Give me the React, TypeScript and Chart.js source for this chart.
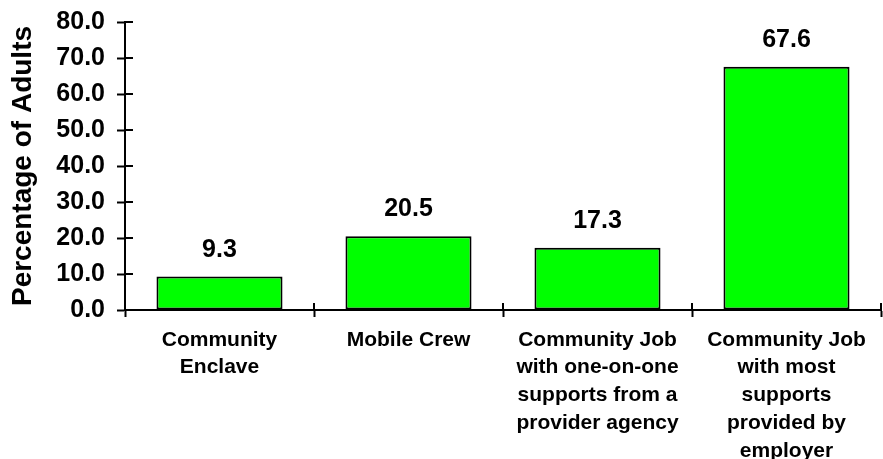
import React, { useEffect, useRef } from "react";
import { Chart, registerables } from "chart.js";

Chart.register(...registerables);

const categories: string[][] = [
  ["Community", "Enclave"],
  ["Mobile Crew"],
  ["Community Job", "with one-on-one", "supports from a", "provider agency"],
  ["Community Job", "with most", "supports", "provided by", "employer"],
];
const values: number[] = [9.3, 20.5, 17.3, 67.6];
const yTicks = { min: 0, max: 80, step: 10 };
const yTitle = "Percentage of Adults";

const FONT = "'Liberation Sans', Arial, Helvetica, sans-serif";

const valueLabels = {
  id: "valueLabels",
  afterDatasetsDraw(chart: any) {
    const ctx = chart.ctx;
    const meta = chart.getDatasetMeta(0);
    ctx.save();
    ctx.font = `bold 25px ${FONT}`;
    ctx.fillStyle = "#000";
    ctx.textAlign = "center";
    ctx.textBaseline = "alphabetic";
    meta.data.forEach((bar: any, i: number) => {
      ctx.fillText(values[i].toFixed(1), bar.x, bar.y - 20);
    });
    ctx.restore();
  },
};

const innerTicks = {
  id: "innerTicks",
  afterDraw(chart: any) {
    const ctx = chart.ctx;
    const ys = chart.scales.y;
    const xs = chart.scales.x;
    ctx.save();
    ctx.strokeStyle = "#000";
    ctx.lineWidth = 2;
    ctx.beginPath();
    ys.ticks.forEach((_t: any, i: number) => {
      const y = Math.round(ys.getPixelForTick(i));
      ctx.moveTo(ys.right, y);
      ctx.lineTo(ys.right + 8, y);
    });
    for (let i = 0; i <= categories.length; i++) {
      const x = Math.round(xs.getPixelForValue(i - 0.5));
      ctx.moveTo(x, xs.top);
      ctx.lineTo(x, xs.top - 7);
    }
    ctx.stroke();
    ctx.restore();
  },
};

export default function App() {
  const ref = useRef<HTMLCanvasElement | null>(null);
  useEffect(() => {
    if (!ref.current) return;
    const chart = new Chart(ref.current, {
      type: "bar",
      data: {
        labels: categories,
        datasets: [
          {
            data: values,
            backgroundColor: "#00FF00",
            borderColor: "#000000",
            borderWidth: 2,
            borderSkipped: false,
            barPercentage: 0.667,
            categoryPercentage: 1,
          },
        ],
      },
      options: {
        animation: false,
        responsive: true,
        maintainAspectRatio: false,
        layout: { padding: { top: 22, right: 2, left: 0, bottom: 0 } },
        plugins: {
          legend: { display: false },
          tooltip: { enabled: false },
        },
        scales: {
          x: {
            offset: true,
            grid: {
              offset: true,
              drawOnChartArea: false,
              drawTicks: true,
              tickLength: 7,
              tickWidth: 2,
              tickColor: "#000",
            },
            border: { display: true, color: "#000", width: 2 },
            ticks: {
              color: "#000",
              font: { family: FONT, size: 21, weight: "bold", lineHeight: 1.32 },
              padding: 9,
              maxRotation: 0,
              minRotation: 0,
              autoSkip: false,
            },
            afterFit: (scale: any) => {
              scale.height = 149;
            },
          },
          y: {
            min: yTicks.min,
            max: yTicks.max,
            grid: {
              drawOnChartArea: false,
              drawTicks: true,
              tickLength: 8,
              tickWidth: 2,
              tickColor: "#000",
            },
            border: { display: true, color: "#000", width: 2 },
            ticks: {
              stepSize: yTicks.step,
              color: "#000",
              font: { family: FONT, size: 25, weight: "bold", lineHeight: 0.6 },
              padding: 12,
              callback: (v: any) => Number(v).toFixed(1),
            },
            title: {
              display: true,
              text: yTitle,
              color: "#000",
              font: { family: FONT, size: 28, weight: "bold", lineHeight: 1 },
              padding: { top: 9, bottom: 0 },
            },
            afterFit: (scale: any) => {
              scale.width = 125;
            },
          },
        },
      },
      plugins: [valueLabels, innerTicks],
    });
    return () => chart.destroy();
  }, []);

  return (
    <div style={{ position: "absolute", left: 0, top: 0, width: 883, height: 459, background: "#fff" }}>
      <canvas ref={ref} />
    </div>
  );
}
